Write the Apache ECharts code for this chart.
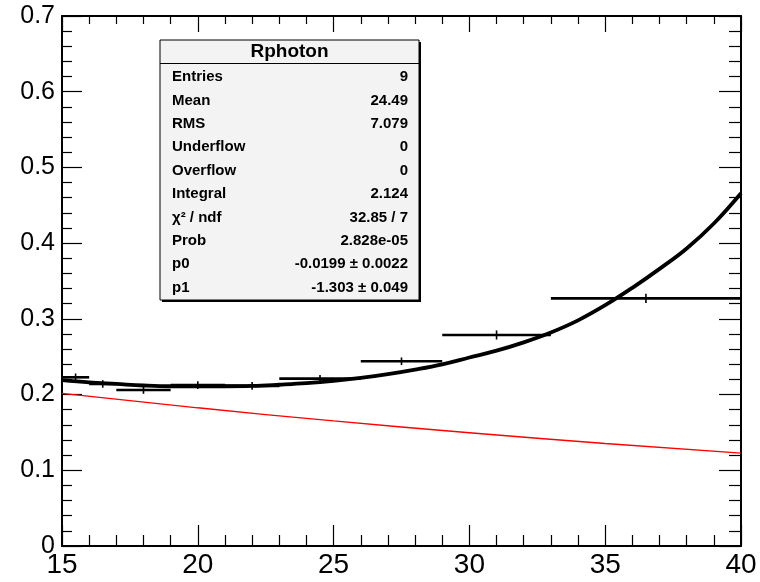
<!DOCTYPE html>
<html>
<head>
<meta charset="utf-8">
<script src="https://cdn.jsdelivr.net/npm/echarts@6/dist/echarts.min.js"></script>
<style>
  html, body { margin: 0; padding: 0; background: #fff; }
  #chart { width: 760px; height: 582px; }
</style>
</head>
<body>
<div id="chart"></div>
<script>
// Histogram "Rphoton": variable-width bins
const binLow  = [15, 16, 17, 19, 21, 23, 26, 29, 33];
const binHigh = [16, 17, 19, 21, 23, 26, 29, 33, 40];
const binValue = [0.2228, 0.214, 0.206, 0.2125, 0.2115, 0.221, 0.244, 0.2787, 0.327];
const binError = [0.005, 0.005, 0.005, 0.005, 0.005, 0.005, 0.005, 0.006, 0.006];

// Fitted curve (black) sampled along x
const fitX = [15, 16, 17, 18, 19, 20, 21, 22, 23, 24, 25, 26, 27, 28, 29, 30, 31, 32, 33, 34, 35, 36, 37, 38, 39, 40];
const fitY = [0.219, 0.216, 0.214, 0.212, 0.211, 0.211, 0.211, 0.2114, 0.213, 0.215, 0.218, 0.222, 0.227, 0.233, 0.240, 0.249, 0.258, 0.269, 0.282, 0.298, 0.318, 0.341, 0.366, 0.393, 0.426, 0.466];

// Exponential component (red)
const expX = [15, 20, 25, 30, 35, 40];
const expY = [0.2016, 0.1825, 0.1652, 0.1496, 0.1354, 0.1226];

// Axis ticks
const xTicks = { min: 15, max: 40, step: 5 };
const yTicks = { min: 0, max: 0.7, step: 0.1 };

// Statistics box contents
const statsTitle = 'Rphoton';
const statsNames  = ['Entries', 'Mean', 'RMS', 'Underflow', 'Overflow', 'Integral', 'χ² / ndf', 'Prob', 'p0', 'p1'];
const statsValues = ['9', '24.49', '7.079', '0', '0', '2.124', '32.85 / 7', '2.828e-05', '-0.0199 ± 0.0022', '-1.303 ± 0.049'];

const FONT = 'Liberation Sans, Arial, Helvetica, sans-serif';

const histData = binLow.map((lo, i) => [lo, binHigh[i], binValue[i], binError[i]]);

const chart = echarts.init(document.getElementById('chart'), null, { renderer: 'canvas' });

const statsBox = { x: 160, y: 40, w: 259, h: 260 };
const rowTop = 77, rowStep = 23.4;

const graphics = [
  // shadow
  { type: 'rect', shape: { x: statsBox.x + 2, y: statsBox.y + 2, width: statsBox.w, height: statsBox.h },
    style: { fill: '#000' }, z: 10 },
  { type: 'rect', shape: { x: statsBox.x, y: statsBox.y, width: statsBox.w, height: statsBox.h },
    style: { fill: '#f3f3f3', stroke: '#000', lineWidth: 1 }, z: 11 },
  { type: 'line', shape: { x1: statsBox.x, y1: 63.5, x2: statsBox.x + statsBox.w, y2: 63.5 },
    style: { stroke: '#000', lineWidth: 1 }, z: 12 },
  { type: 'text', x: statsBox.x + statsBox.w / 2, y: 52, z: 12,
    style: { text: statsTitle, font: 'bold 19px ' + FONT, fill: '#000', align: 'center', verticalAlign: 'middle' } }
];
statsNames.forEach((name, i) => {
  const y = rowTop + i * rowStep;
  graphics.push({ type: 'text', x: 172, y: y, z: 12,
    style: { text: name, font: 'bold 15px ' + FONT, fill: '#000', align: 'left', verticalAlign: 'middle' } });
  graphics.push({ type: 'text', x: 408, y: y, z: 12,
    style: { text: statsValues[i], font: 'bold 15px ' + FONT, fill: '#000', align: 'right', verticalAlign: 'middle' } });
});

const axisLine = { show: true, onZero: false, lineStyle: { color: '#000', width: 2 } };

chart.setOption({
  animation: false,
  backgroundColor: '#fff',
  grid: { left: 62, right: 19, top: 16, bottom: 36, containLabel: false },
  xAxis: [
    {
      type: 'value', min: xTicks.min, max: xTicks.max, interval: xTicks.step,
      axisLine: axisLine,
      axisTick: { show: true, inside: true, length: 21, lineStyle: { color: '#000', width: 1.2 } },
      minorTick: { show: true, splitNumber: 5, length: 11, lineStyle: { color: '#000', width: 1.2 } },
      splitLine: { show: false },
      axisLabel: { show: true, margin: 5, fontSize: 28, fontFamily: FONT, color: '#000' }
    },
    {
      type: 'value', position: 'top', min: xTicks.min, max: xTicks.max, interval: xTicks.step,
      axisLine: axisLine,
      axisTick: { show: true, inside: true, length: 16, lineStyle: { color: '#000', width: 1.2 } },
      minorTick: { show: true, splitNumber: 5, length: 8, lineStyle: { color: '#000', width: 1.2 } },
      splitLine: { show: false },
      axisLabel: { show: false }
    }
  ],
  yAxis: [
    {
      type: 'value', min: yTicks.min, max: yTicks.max, interval: yTicks.step,
      axisLine: axisLine,
      axisTick: { show: true, inside: true, length: 20, lineStyle: { color: '#000', width: 1.2 } },
      minorTick: { show: true, splitNumber: 5, length: 10, lineStyle: { color: '#000', width: 1.2 } },
      splitLine: { show: false },
      axisLabel: { show: true, margin: 7, fontSize: 25, fontFamily: FONT, color: '#000' }
    },
    {
      type: 'value', position: 'right', min: yTicks.min, max: yTicks.max, interval: yTicks.step,
      axisLine: axisLine,
      axisTick: { show: true, inside: true, length: 22, lineStyle: { color: '#000', width: 1.2 } },
      minorTick: { show: true, splitNumber: 5, length: 12, lineStyle: { color: '#000', width: 1.2 } },
      splitLine: { show: false },
      axisLabel: { show: false }
    }
  ],
  series: [
    {
      name: 'expo', type: 'line', xAxisIndex: 0, yAxisIndex: 0,
      data: expX.map((x, i) => [x, expY[i]]),
      smooth: true, showSymbol: false,
      lineStyle: { color: '#ff0000', width: 1.4 }, z: 3
    },
    {
      name: 'Rphoton', type: 'custom', xAxisIndex: 0, yAxisIndex: 0,
      data: histData, z: 4,
      renderItem: function (params, api) {
        const lo = api.value(0), hi = api.value(1), v = api.value(2), e = api.value(3);
        const mid = (lo + hi) / 2;
        const pLo = api.coord([lo, v]);
        const pHi = api.coord([hi, v]);
        const pTop = api.coord([mid, v + e]);
        const pBot = api.coord([mid, v - e]);
        const st = { stroke: '#000', lineWidth: 2.6 };
        return {
          type: 'group',
          children: [
            { type: 'line', shape: { x1: pLo[0], y1: pLo[1], x2: pHi[0], y2: pHi[1] }, style: st },
            { type: 'line', shape: { x1: pTop[0], y1: pTop[1], x2: pBot[0], y2: pBot[1] }, style: { stroke: '#000', lineWidth: 1.6 } }
          ]
        };
      }
    },
    {
      name: 'fit', type: 'line', xAxisIndex: 0, yAxisIndex: 0,
      data: fitX.map((x, i) => [x, fitY[i]]),
      smooth: 0.4, showSymbol: false,
      lineStyle: { color: '#000', width: 3.8 }, z: 5
    }
  ],
  graphic: graphics
});
</script>
</body>
</html>
